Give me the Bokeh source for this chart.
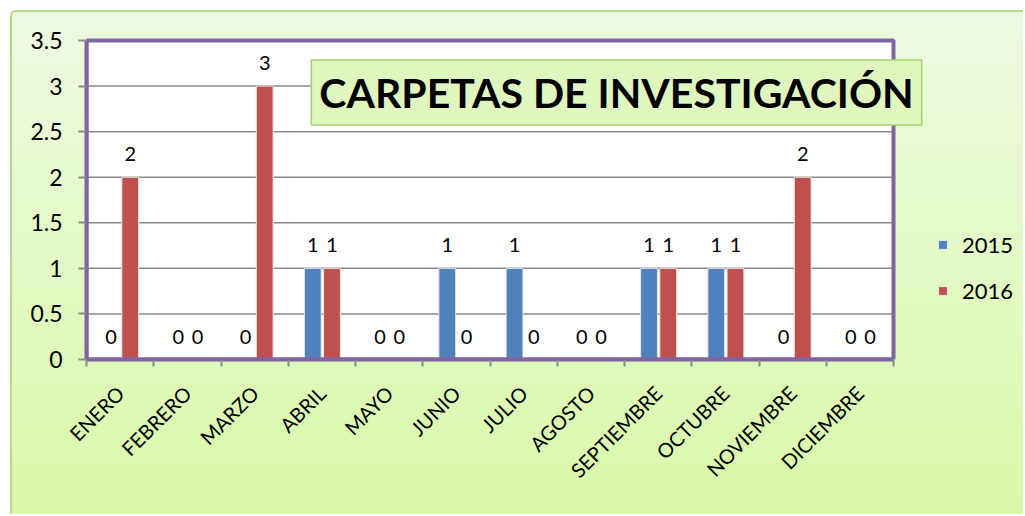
import math
from bokeh.plotting import figure
from bokeh.models import (ColumnDataSource, Range1d, FixedTicker, LabelSet, Label,
                          Legend, LegendItem, Spacer)
from bokeh.layouts import column, row
from bokeh.core.properties import value
from bokeh.embed import file_html
from bokeh.resources import INLINE

months = ["ENERO", "FEBRERO", "MARZO", "ABRIL", "MAYO", "JUNIO", "JULIO",
          "AGOSTO", "SEPTIEMBRE", "OCTUBRE", "NOVIEMBRE", "DICIEMBRE"]
v2015 = [0, 0, 0, 1, 0, 1, 1, 0, 1, 1, 0, 0]
v2016 = [2, 0, 3, 1, 0, 0, 0, 0, 1, 1, 2, 0]
yticks = [0, 0.5, 1, 1.5, 2, 2.5, 3, 3.5]
ylabels = ["0", "0.5", "1", "1.5", "2", "2.5", "3", "3.5"]
title_text = "CARPETAS DE INVESTIGACIÓN"
series_names = ["2015", "2016"]
colors = ["#4f81bd", "#c0504d"]

FONT = "Lato"
n = len(months)
ymax = yticks[-1]

# layout geometry (pixels)
W, H = 1013, 504
LEFT, TOP_PAD, TOP, BOTTOM = 74, 4, 28, 157
plot_w = 807                 # width of the purple-framed plot area
plot_h = H - TOP - BOTTOM    # height of the purple-framed plot area
frame_w = W - LEFT
x_end = n * frame_w / plot_w
y_end = ymax * (plot_h + TOP_PAD) / plot_h

centers = [i + 0.5 for i in range(n)]
x15 = [c - 0.135 for c in centers]
x16 = [c + 0.15 for c in centers]

p = figure(width=W, height=H, output_backend="svg", toolbar_location=None,
           x_range=Range1d(0, x_end), y_range=Range1d(0, y_end),
           min_border_left=LEFT, min_border_right=0, min_border_top=TOP - TOP_PAD,
           min_border_bottom=BOTTOM)
p.styles = {"background": "linear-gradient(to bottom, #eef9e2, #d8f9a8)",
            "border-left": "2px solid #b6d98e", "border-top": "2px solid #b6d98e",
            "border-top-left-radius": "6px"}
p.border_fill_alpha = 0
p.background_fill_alpha = 0
p.outline_line_color = None
p.xgrid.grid_line_color = None
p.ygrid.grid_line_color = None

# plot area (white) + gridlines + frame
p.quad(left=[0], right=[n], bottom=[0], top=[ymax], fill_color="white", line_color=None)
p.segment(x0=[0] * len(yticks), x1=[n] * len(yticks), y0=yticks, y1=yticks,
          line_color="#8a8a8a", line_width=1.5)

src15 = ColumnDataSource(dict(x=x15, top=v2015, lbl=[str(v) for v in v2015]))
src16 = ColumnDataSource(dict(x=x16, top=v2016, lbl=[str(v) for v in v2016]))

r15 = p.vbar(x="x", top="top", width=0.25, source=src15, fill_color=colors[0],
             line_color="#e6e6e6", line_width=1)
r16 = p.vbar(x="x", top="top", width=0.25, source=src16, fill_color=colors[1],
             line_color="#e6e6e6", line_width=1)

p.quad(left=[0], right=[n], bottom=[0], top=[ymax], fill_alpha=0,
       line_color="#8064a2", line_width=4)

for s in (src15, src16):
    p.add_layout(LabelSet(x="x", y="top", text="lbl", source=s, y_offset=23,
                          text_align="center", text_baseline="middle",
                          text_font=value(FONT), text_font_size="20px",
                          text_color="black"))

# axes
p.xaxis.bounds = (0, n)
p.xaxis.ticker = FixedTicker(ticks=centers, minor_ticks=list(range(n + 1)))
p.xaxis.major_label_overrides = {c: m for c, m in zip(centers, months)}
p.xaxis.major_label_orientation = math.pi / 4
p.xaxis.major_tick_out = 0
p.xaxis.major_tick_in = 0
p.xaxis.minor_tick_out = 7
p.xaxis.minor_tick_in = 0
p.xaxis.minor_tick_line_color = "#8a8a8a"
p.xaxis.minor_tick_line_width = 2
p.xaxis.axis_line_color = "#8064a2"
p.xaxis.axis_line_width = 4
p.xaxis.major_label_text_font = FONT
p.xaxis.major_label_text_font_size = "20px"
p.xaxis.major_label_text_color = "black"
p.xaxis.major_label_standoff = 23

p.yaxis.bounds = (0, ymax)
p.yaxis.ticker = FixedTicker(ticks=yticks)
p.yaxis.major_label_overrides = {t: l for t, l in zip(yticks, ylabels)}
p.yaxis.major_tick_out = 8
p.yaxis.major_tick_in = 0
p.yaxis.major_tick_line_color = "#8a8a8a"
p.yaxis.major_tick_line_width = 2
p.yaxis.minor_tick_line_color = None
p.yaxis.axis_line_color = "#8064a2"
p.yaxis.axis_line_width = 4
p.yaxis.major_label_text_font = FONT
p.yaxis.major_label_text_font_size = "23px"
p.yaxis.major_label_text_color = "black"
p.yaxis.major_label_standoff = 16

# title box (shadow + box), screen units from frame bottom-left
tx, ty = 530, 267
p.add_layout(Label(x=tx + 3, y=ty - 3, x_units="screen", y_units="screen", text=title_text,
                   text_align="center", text_baseline="middle", text_font=FONT,
                   text_font_style="bold", text_font_size="41px", text_alpha=0,
                   background_fill_color="#6a6a6a", background_fill_alpha=0.3,
                   padding=8))
p.add_layout(Label(x=tx, y=ty, x_units="screen", y_units="screen", text=title_text,
                   text_align="center", text_baseline="middle", text_font=FONT,
                   text_font_style="bold", text_font_size="41px", text_color="black",
                   background_fill_color="#e0f6bf", border_line_color="#a3d06e",
                   border_line_width=1.5, padding=8))

legend = Legend(items=[LegendItem(label=series_names[0], renderers=[r15]),
                       LegendItem(label=series_names[1], renderers=[r16])],
                location=(851, 55), orientation="vertical",
                glyph_width=11, glyph_height=11, label_standoff=14, spacing=19,
                label_text_font=FONT, label_text_font_size="22px",
                label_text_color="black", background_fill_alpha=0,
                border_line_color=None, padding=0, margin=0)
p.add_layout(legend)

layout = column(Spacer(height=10), row(Spacer(width=10), p))
open("out.html", "w").write(file_html(layout, INLINE))
